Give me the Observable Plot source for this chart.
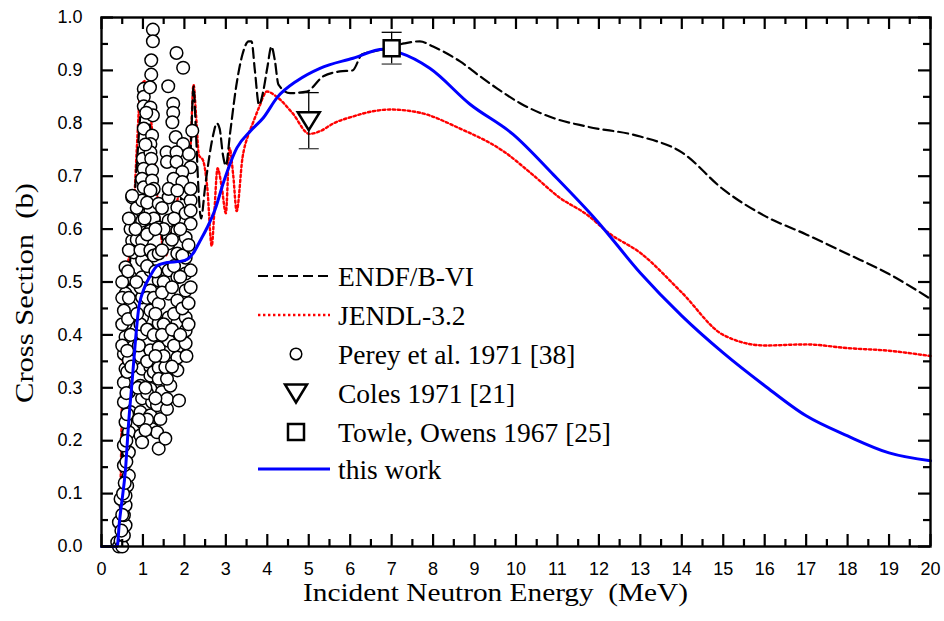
<!DOCTYPE html>
<html><head><meta charset="utf-8">
<script src="https://cdn.jsdelivr.net/npm/d3@7"></script>
<script src="https://cdn.jsdelivr.net/npm/@observablehq/plot@0.6"></script>
<style>
html,body{margin:0;padding:0;background:#fff;}
#wrap{width:944px;height:621px;}
#wrap g[aria-label="x-axis tick label"], #wrap g[aria-label="y-axis tick label"] {
  font-size: 18px !important; font-family: 'Liberation Sans', Arial, sans-serif !important;
}
</style></head><body><div id="wrap"></div>
<script>
// ---------- tick values ----------
const xTickLabels = [0,1,2,3,4,5,6,7,8,9,10,11,12,13,14,15,16,17,18,19,20];
const xMinorTicks = [0.5,1.5,2.5,3.5,4.5,5.5,6.5,7.5,8.5,9.5,10.5,11.5,12.5,13.5,14.5,15.5,16.5,17.5,18.5,19.5];
const yTickLabels = [0,0.1,0.2,0.3,0.4,0.5,0.6,0.7,0.8,0.9,1.0];
const yMinorTicks = [0.05,0.15,0.25,0.35,0.45,0.55,0.65,0.75,0.85,0.95];

// ---------- evaluated curves (energy MeV, cross section b) ----------
const endfE  = [0.4,0.45,0.5,0.55,0.65,0.75,0.85,1.0,1.1,1.25,1.4,1.55,1.7,1.85,2.0,2.15,2.22,2.28,2.35,2.4,2.5,2.56,2.7,2.78,2.85,2.93,3.0,3.1,3.25,3.4,3.55,3.62,3.7,3.8,3.9,4.0,4.1,4.18,4.27,4.55,4.95,5.35,5.75,6.06,6.28,6.5,6.8,7.3,7.68,8.0,8.65,9.13,9.54,10.1,10.9,11.7,13,14,15,16,17,18,19,20];
const endfXS = [0,0.05,0.2,0.4,0.5,0.6,0.72,0.85,0.83,0.74,0.62,0.56,0.6,0.64,0.68,0.75,0.87,0.78,0.66,0.62,0.68,0.715,0.78,0.8,0.79,0.74,0.72,0.78,0.87,0.93,0.955,0.955,0.9,0.835,0.86,0.905,0.945,0.92,0.873,0.857,0.86,0.889,0.898,0.9,0.93,0.935,0.94,0.951,0.955,0.945,0.917,0.889,0.866,0.838,0.81,0.794,0.775,0.745,0.675,0.625,0.59,0.553,0.515,0.468];

const jendlE  = [0.4,0.45,0.5,0.55,0.6,0.7,0.78,0.85,0.95,1.05,1.15,1.25,1.35,1.45,1.55,1.65,1.75,1.85,1.95,2.05,2.15,2.22,2.28,2.35,2.45,2.55,2.66,2.72,2.8,2.9,3.0,3.09,3.18,3.26,3.4,3.55,3.65,3.8,3.99,4.23,4.6,5.02,5.27,5.6,6.07,6.5,6.96,7.68,8.65,9.7,10.4,11.06,11.7,12.25,13,14,15,16,17,18,19,20];
const jendlXS = [0,0.08,0.3,0.45,0.5,0.58,0.64,0.75,0.87,0.88,0.84,0.76,0.66,0.58,0.55,0.58,0.62,0.66,0.67,0.7,0.76,0.873,0.817,0.74,0.73,0.68,0.568,0.63,0.715,0.68,0.63,0.753,0.7,0.634,0.734,0.78,0.8,0.83,0.86,0.85,0.82,0.78,0.785,0.8,0.813,0.822,0.826,0.82,0.79,0.747,0.703,0.659,0.628,0.592,0.555,0.48,0.40,0.38,0.382,0.375,0.37,0.36];

const workE  = [0,0.38,0.43,0.48,0.58,0.65,0.75,0.82,0.89,1.01,1.18,1.35,1.59,1.9,2.09,2.21,2.38,2.55,2.74,2.95,3.27,3.6,3.9,4.24,4.73,5.27,6.07,6.8,7.2,7.92,8.89,9.93,10.9,11.96,13,14,15,16,17,18,19,20];
const workXS = [0,0,0.045,0.078,0.147,0.229,0.323,0.39,0.446,0.484,0.512,0.531,0.537,0.539,0.544,0.554,0.578,0.603,0.637,0.69,0.754,0.786,0.81,0.849,0.881,0.904,0.923,0.94,0.933,0.904,0.836,0.779,0.703,0.615,0.517,0.436,0.366,0.304,0.247,0.209,0.177,0.162];

// ---------- measurements ----------
const pereyPoints = [
 [0.38,0.008],[0.42,0.0],[0.46,0.011],[0.5,0.0],[0.54,0.021],[0.42,0.046],[0.58,0.04],[0.54,0.059],[0.58,0.078],[0.46,0.09],
 [0.58,0.096],[0.62,0.115],[0.66,0.134],[0.54,0.153],[0.66,0.178],[0.54,0.191],[0.66,0.216],[0.58,0.235],[0.7,0.254],[0.54,0.273],
 [0.66,0.292],[0.54,0.31],[0.58,0.336],[0.54,0.364],[0.66,0.352],[0.74,0.383],[0.58,0.396],[0.74,0.415],[0.58,0.421],[0.7,0.452],
 [0.54,0.446],[0.74,0.484],[0.58,0.478],[0.7,0.509],[0.58,0.528],[0.78,0.556],[0.74,0.578],[0.74,0.619],[0.74,0.66],[0.94,0.61],
 [0.94,0.648],[0.48,0.03],[0.5,0.06],[0.52,0.1],[0.56,0.12],[0.6,0.16],[0.6,0.2],[0.62,0.25],[0.6,0.29],[0.62,0.33],
 [0.5,0.38],[0.5,0.42],[0.5,0.47],[0.5,0.5],[0.62,0.37],[0.64,0.43],[0.66,0.47],[0.64,0.52],[0.66,0.56],[0.7,0.6],
 [0.85,0.64],[0.85,0.58],
 [0.98,0.336],[0.94,0.304],[0.98,0.28],[0.94,0.254],[0.98,0.235],[0.94,0.21],[0.98,0.197],[0.98,0.654],[0.98,0.616],[0.98,0.578],
 [0.98,0.541],[0.98,0.509],[0.98,0.471],[0.98,0.433],[0.98,0.402],[0.98,0.371],[0.94,0.56],[0.94,0.49],[0.94,0.42],[0.94,0.36],
 [1.02,0.865],[1.02,0.85],[1.02,0.832],[1.02,0.79],[1.0,0.733],[1.02,0.714],[0.98,0.695],[1.02,0.679],[0.74,0.663],
 [1.24,0.977],[1.24,0.955],[1.2,0.919],[1.2,0.892],[1.17,0.868],[1.18,0.83],[1.24,0.815],[1.22,0.777],[1.18,0.761],[1.18,0.745],
 [1.2,0.733],[1.22,0.711],[1.22,0.692],[1.26,0.676],[1.18,0.673],[1.18,0.635],[1.18,0.597],[1.18,0.56],[1.18,0.522],[1.18,0.484],
 [1.18,0.446],[1.18,0.408],[1.18,0.371],[1.18,0.339],[1.18,0.323],[1.18,0.298],[1.22,0.273],[1.18,0.248],[1.22,0.222],
 [1.1,0.65],[1.1,0.59],[1.1,0.53],[1.1,0.47],[1.1,0.41],[1.1,0.35],[1.1,0.29],[1.1,0.24],[1.26,0.62],[1.26,0.55],
 [1.26,0.47],[1.26,0.4],[1.26,0.33],
 [1.38,0.648],[1.38,0.603],[1.38,0.554],[1.38,0.503],[1.38,0.459],[1.38,0.422],[1.38,0.376],[1.38,0.338],[1.38,0.185],[1.34,0.216],
 [1.42,0.241],[1.34,0.267],[1.46,0.292],[1.38,0.317],
 [1.62,0.66],[1.62,0.616],[1.62,0.573],[1.62,0.522],[1.62,0.478],[1.62,0.433],[1.62,0.389],[1.62,0.346],[1.54,0.204],[1.58,0.26],
 [1.58,0.279],[1.66,0.304],[1.58,0.317],[1.54,0.339],[1.5,0.6],[1.5,0.5],[1.5,0.42],[1.5,0.36],
 [1.83,0.641],[1.83,0.597],[1.83,0.554],[1.83,0.509],[1.83,0.465],[1.83,0.422],[1.83,0.376],[1.83,0.357],[1.87,0.276],[1.83,0.333],
 [1.75,0.62],[1.75,0.53],[1.75,0.44],[1.75,0.38],
 [2.03,0.667],[2.03,0.63],[2.03,0.584],[2.03,0.546],[2.03,0.516],[2.03,0.484],[2.03,0.433],[2.03,0.408],[2.03,0.384],[2.15,0.654],
 [2.15,0.635],[2.15,0.61],[2.15,0.522],[2.15,0.49],[2.1,0.42],[2.05,0.36],[1.95,0.45],[1.95,0.55],
 [1.81,0.933],[1.97,0.905],[1.61,0.87],[1.73,0.837],[1.73,0.82],[1.71,0.802],[2.19,0.786],[1.79,0.774],[1.97,0.761],[1.57,0.745],
 [1.81,0.745],[2.11,0.742],[1.58,0.727],[1.81,0.727],[2.15,0.717],[1.95,0.708],[1.74,0.695],[1.95,0.689],[1.62,0.676],[1.83,0.673],
 [2.15,0.676],
 [1.3,0.6],[1.3,0.52],[1.3,0.44],[1.3,0.36],[1.3,0.28],[1.46,0.64],[1.46,0.56],[1.46,0.48],[1.46,0.4],[1.7,0.58],
 [1.7,0.49],[1.7,0.41],[1.7,0.34],[1.9,0.6],[1.9,0.51],[1.9,0.4],[2.1,0.57],[2.1,0.46],[0.82,0.6],[0.84,0.5],
 [0.86,0.44],[0.9,0.38],[0.88,0.3],[0.9,0.24],[1.06,0.3],[1.06,0.22],[1.04,0.62],[1.06,0.76],[1.08,0.82],[0.7,0.4],
 [0.72,0.34],[0.66,0.62]
];
const colesE = [5], colesXS = [0.805], colesErr = [0.053];
const towleE = [7], towleXS = [0.942], towleErr = [0.03];

// ---------- series labels ----------
const legendLabels = ["ENDF/B-VI","JENDL-3.2","Perey et al. 1971 [38]","Coles 1971 [21]","Towle, Owens 1967 [25]","this work"];

// ---------- build tables ----------
const endf = endfE.map((e,i)=>({e, s:endfXS[i]}));
const jendl = jendlE.map((e,i)=>({e, s:jendlXS[i]}));
const work = workE.map((e,i)=>({e, s:workXS[i]}));
const perey = pereyPoints.map(([e,s])=>({e,s}));
const coles = colesE.map((e,i)=>({e, s:colesXS[i], lo:colesXS[i]-colesErr[i], hi:colesXS[i]+colesErr[i]}));
const towle = towleE.map((e,i)=>({e, s:towleXS[i], lo:towleXS[i]-towleErr[i], hi:towleXS[i]+towleErr[i]}));

const W = 944, H = 621, mL = 101, mR = 14, mT = 17, mB = 75;
const innerW = W - mL - mR, innerH = H - mT - mB;
const majLen = 12, minLen = 7;

const downTriangle = {
  draw(ctx, size) {
    const r = Math.sqrt(size / Math.PI);
    ctx.moveTo(-1.1 * r, -0.85 * r);
    ctx.lineTo(1.1 * r, -0.85 * r);
    ctx.lineTo(0, 0.95 * r);
    ctx.closePath();
  }
};
const capSymbol = {
  draw(ctx, size) {
    const r = Math.sqrt(size / Math.PI);
    ctx.moveTo(-r, 0); ctx.lineTo(r, 0);
  }
};

const sans = "'Liberation Sans', Arial, sans-serif";
const serif = "'Liberation Serif', 'Times New Roman', serif";
const tickStyle = {stroke: "black", strokeWidth: 2.2};
const endfStyle = {stroke: "black", strokeWidth: 2.2, strokeDasharray: "10,5"};
const jendlStyle = {stroke: "#ff0000", strokeWidth: 2.4, strokeDasharray: "2.4,2.6"};
const workStyle = {stroke: "#0000ff", strokeWidth: 3};

const svg = Plot.plot({
  width: W, height: H,
  marginLeft: mL, marginRight: mR, marginTop: mT, marginBottom: mB,
  x: {domain: [0, 20]},
  y: {domain: [0, 1]},
  style: {fontFamily: sans, fontSize: "18px", color: "black", background: "white"},
  marks: [
    Plot.line(jendl, {x: "e", y: "s", curve: "monotone-x", ...jendlStyle}),
    Plot.line(endf, {x: "e", y: "s", curve: "monotone-x", ...endfStyle}),
    Plot.dot(perey, {x: "e", y: "s", r: 6.3, fill: "white", stroke: "black", strokeWidth: 1.5}),
    Plot.line(work, {x: "e", y: "s", curve: "monotone-x", ...workStyle}),
    // error bars
    Plot.ruleX([...coles, ...towle], {x: "e", y1: "lo", y2: "hi", stroke: "black", strokeWidth: 1.3}),
    Plot.dot([...coles, ...towle], {x: "e", y: "lo", symbol: capSymbol, r: 10, stroke: "#444", strokeWidth: 1.3, fill: "none"}),
    Plot.dot([...coles, ...towle], {x: "e", y: "hi", symbol: capSymbol, r: 10, stroke: "black", strokeWidth: 1.3, fill: "none"}),
    Plot.dot(coles, {x: "e", y: "s", symbol: downTriangle, r: 10, fill: "white", stroke: "black", strokeWidth: 2.5}),
    Plot.dot(towle, {x: "e", y: "s", symbol: "square", r: 9, fill: "white", stroke: "black", strokeWidth: 2.5}),
    // inward ticks on all four sides
    Plot.ruleX(xTickLabels, {x: d => d, insetTop: innerH - majLen, ...tickStyle}),
    Plot.ruleX(xMinorTicks, {x: d => d, insetTop: innerH - minLen, ...tickStyle}),
    Plot.ruleX(xTickLabels, {x: d => d, insetBottom: innerH - majLen, ...tickStyle}),
    Plot.ruleX(xMinorTicks, {x: d => d, insetBottom: innerH - minLen, ...tickStyle}),
    Plot.ruleY(yTickLabels, {y: d => d, insetRight: innerW - majLen, ...tickStyle}),
    Plot.ruleY(yMinorTicks, {y: d => d, insetRight: innerW - minLen, ...tickStyle}),
    Plot.ruleY(yTickLabels, {y: d => d, insetLeft: innerW - majLen, ...tickStyle}),
    Plot.ruleY(yMinorTicks, {y: d => d, insetLeft: innerW - minLen, ...tickStyle}),
    Plot.frame({stroke: "black", strokeWidth: 2.4}),
    Plot.axisX(xTickLabels, {tickSize: 0, tickPadding: 16, tickFormat: d => String(d), label: null, fontSize: 18, fontFamily: sans}),
    Plot.axisY(yTickLabels, {tickSize: 0, tickPadding: 19, tickFormat: d3.format(".1f"), label: null, fontSize: 18, fontFamily: sans})
  ]
});

const root = d3.select(svg);

// axis titles
root.append("text")
  .attr("x", 303).attr("y", 601)
  .attr("text-anchor", "start")
  .attr("font-family", serif).attr("font-size", 26).attr("font-weight", "normal")
  .attr("textLength", 385).attr("lengthAdjust", "spacingAndGlyphs")
  .attr("fill", "black")
  .text("Incident Neutron Energy  (MeV)");
root.append("text")
  .attr("transform", "translate(33,403) rotate(-90)")
  .attr("text-anchor", "start")
  .attr("font-family", serif).attr("font-size", 26).attr("font-weight", "normal")
  .attr("textLength", 220).attr("lengthAdjust", "spacingAndGlyphs")
  .attr("fill", "black")
  .text("Cross Section  (b)");

// legend
const lg = root.append("g").attr("text-anchor", "start");
const rows = [276, 315, 354, 393, 432, 469];
const lineX1 = 258, lineX2 = 330, symX = 296, textX = 338;
function legendLine(y, st) {
  lg.append("line").attr("x1", lineX1).attr("x2", lineX2).attr("y1", y).attr("y2", y)
    .attr("stroke", st.stroke).attr("stroke-width", st.strokeWidth)
    .attr("stroke-dasharray", st.strokeDasharray || null);
}
legendLine(rows[0], endfStyle);
legendLine(rows[1], jendlStyle);
lg.append("circle").attr("cx", symX).attr("cy", rows[2]).attr("r", 5.8)
  .attr("fill", "white").attr("stroke", "black").attr("stroke-width", 1.5);
{
  const p = d3.path(); downTriangle.draw(p, 100 * Math.PI);
  lg.append("path").attr("d", p.toString()).attr("transform", `translate(${symX},${rows[3]})`)
    .attr("fill", "white").attr("stroke", "black").attr("stroke-width", 2.5);
  lg.append("rect").attr("x", symX - 8).attr("y", rows[4] - 8).attr("width", 16).attr("height", 16)
    .attr("fill", "white").attr("stroke", "black").attr("stroke-width", 2.5);
}
legendLine(rows[5], workStyle);
legendLabels.forEach((t, i) => {
  lg.append("text").attr("x", textX).attr("y", rows[i] + 10)
    .attr("text-anchor", "start")
    .attr("font-family", serif).attr("font-size", 27.5).attr("fill", "black").text(t);
});

document.getElementById("wrap").appendChild(svg);
</script>
</body></html>
